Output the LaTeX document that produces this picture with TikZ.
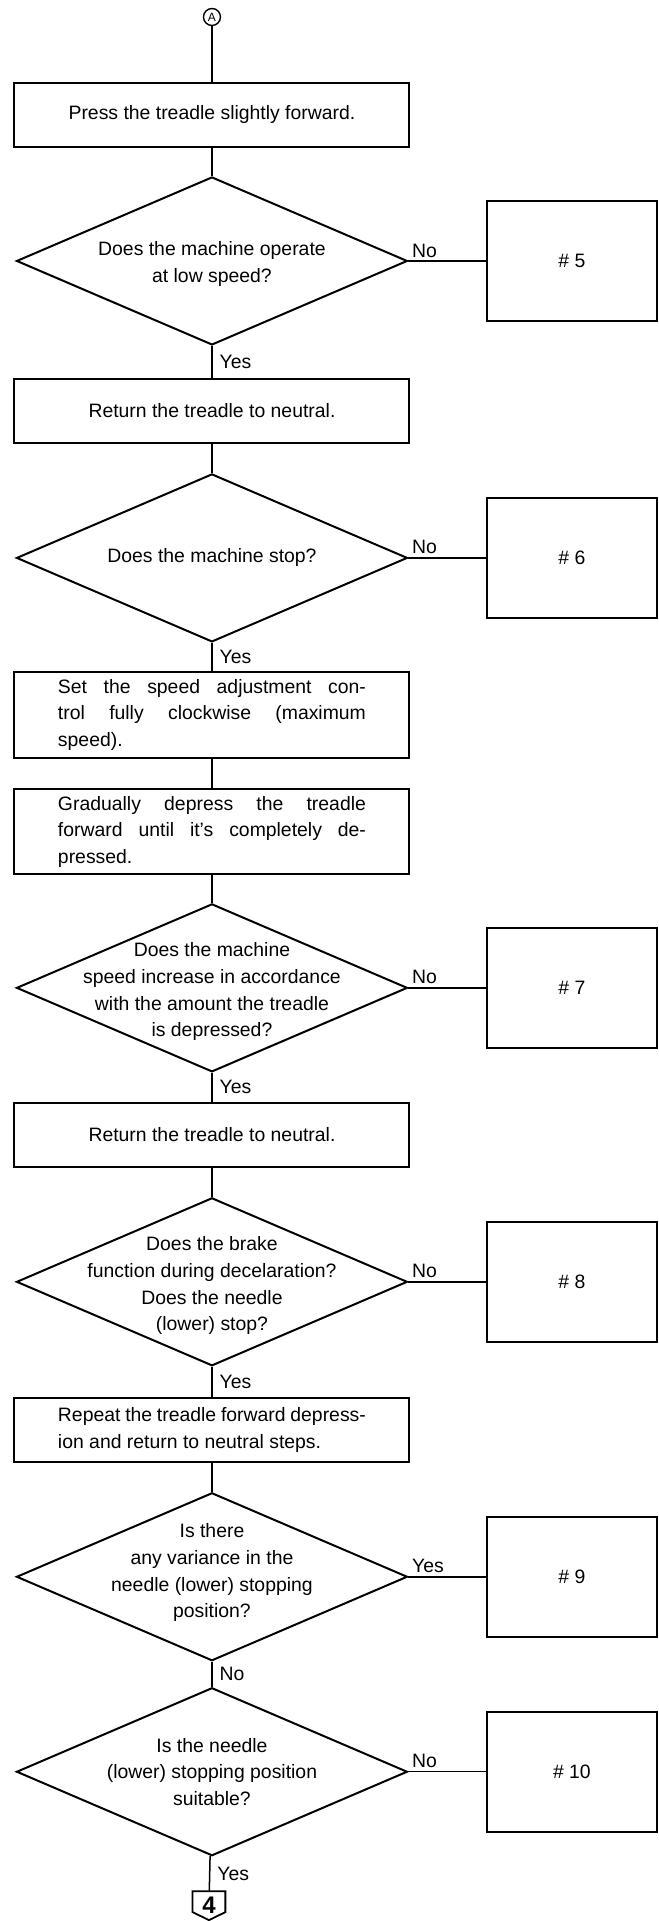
\documentclass[tikz,border=0pt]{standalone}
\usepackage{fontspec}
\setmainfont{Liberation Sans}
\usetikzlibrary{shapes.geometric,calc}

\begin{document}
\begin{tikzpicture}[
  x=0.5pt, y=-0.5pt,
  every node/.style={font=\fontsize{9.7}{13.3}\selectfont},
  stepbox/.style={rectangle, draw, line width=1pt, minimum width=197.5pt,
    minimum height=32pt, inner sep=0pt, text centered},
  longbox/.style={stepbox, text width=154pt, align=justify},
  decision/.style={diamond, draw, line width=1pt, minimum width=195.5pt,
    minimum height=84pt, inner sep=0pt},
  qtext/.style={align=center, inner sep=0pt},
  refbox/.style={rectangle, draw, line width=1pt, minimum width=85pt,
    minimum height=60pt},
  connector/.style={circle, draw, line width=0.7pt, inner sep=0pt,
    minimum size=8.5pt, font=\fontsize{6}{6}\selectfont},
  lbl/.style={inner sep=1.5pt},
  link/.style={line width=0.75pt},
]
  \fill[white] (0,0) rectangle (659,1921);

  % Nodes
  \node[connector] (ca) at (212,17) {A};
  \node[stepbox] (s1) at (212,115) {Press the treadle slightly forward.};
  \node[decision] (q1) at (212,261) {};
  \node[qtext] (q1t) at (212,264) {Does the machine operate\\at low speed?};
  \node[refbox] (r5) at (572,261) {\# 5};
  \node[stepbox] (s2) at (212,411) {Return the treadle to neutral.};
  \node[decision] (q2) at (212,558) {};
  \node[qtext] (q2t) at (212,558) {Does the machine stop?};
  \node[refbox] (r6) at (572,558) {\# 6};
  \node[longbox, minimum height=43pt] (s3) at (212,715)
    {Set the speed adjustment con-\linebreak trol fully clockwise (maximum\linebreak speed).};
  \node[longbox, minimum height=42.5pt] (s4) at (212,832)
    {Gradually depress the treadle\linebreak forward until it's completely de-\linebreak pressed.};
  \node[decision] (q3) at (212,988) {};
  \node[qtext] (q3t) at (212,992)
    {Does the machine\\speed increase in accordance\\with the amount the treadle\\is depressed?};
  \node[refbox] (r7) at (572,988) {\# 7};
  \node[stepbox] (s5) at (212,1135) {Return the treadle to neutral.};
  \node[decision] (q4) at (212,1282) {};
  \node[qtext] (q4t) at (212,1286)
    {Does the brake\\function during decelaration?\\Does the needle\\(lower) stop?};
  \node[refbox] (r8) at (572,1282) {\# 8};
  \node[longbox] (s6) at (212,1430)
    {Repeat the treadle forward depress-\linebreak ion and return to neutral steps.};
  \node[decision] (q5) at (212,1577) {};
  \node[qtext] (q5t) at (212,1573)
    {Is there\\any variance in the\\needle (lower) stopping\\position?};
  \node[refbox] (r9) at (572,1577) {\# 9};
  \node[decision] (q6) at (212,1772) {};
  \node[qtext] (q6t) at (212,1772)
    {Is the needle\\(lower) stopping position\\suitable?};
  \node[refbox] (r10) at (572,1772) {\# 10};
  \node[inner sep=0pt, minimum width=16pt, minimum height=14pt,
    font=\fontsize{12}{12}\selectfont\bfseries] (p4) at (209,1906) {4};
  \draw[line width=0.9pt] (p4.north west) -- (p4.north east)
    -- ($(p4.south east)+(0pt,4pt)$) -- (p4.south)
    -- ($(p4.south west)+(0pt,4pt)$) -- cycle;

  % Edges
  \draw[link] (ca) -- (s1);
  \draw[link] (s1) -- (q1);
  \draw[link] (q1) -- node[lbl, pos=0, above right] {No} (r5);
  \draw[link] (q1) -- node[lbl, right, xshift=2pt] {Yes} (s2);
  \draw[link] (s2) -- (q2);
  \draw[link] (q2) -- node[lbl, pos=0, above right] {No} (r6);
  \draw[link] (q2) -- node[lbl, right, xshift=2pt] {Yes} (s3);
  \draw[link] (s3) -- (s4);
  \draw[link] (s4) -- (q3);
  \draw[link] (q3) -- node[lbl, pos=0, above right] {No} (r7);
  \draw[link] (q3) -- node[lbl, right, xshift=2pt] {Yes} (s5);
  \draw[link] (s5) -- (q4);
  \draw[link] (q4) -- node[lbl, pos=0, above right] {No} (r8);
  \draw[link] (q4) -- node[lbl, right, xshift=2pt] {Yes} (s6);
  \draw[link] (s6) -- (q5);
  \draw[link] (q5) -- node[lbl, pos=0, above right] {Yes} (r9);
  \draw[link] (q5) -- node[lbl, right, xshift=2pt] {No} (q6);
  \draw[link] (q6) -- node[lbl, pos=0, above right] {No} (r10);
  \draw[link] (q6) -- node[lbl, right, xshift=2pt] {Yes} (p4);
\end{tikzpicture}
\end{document}
